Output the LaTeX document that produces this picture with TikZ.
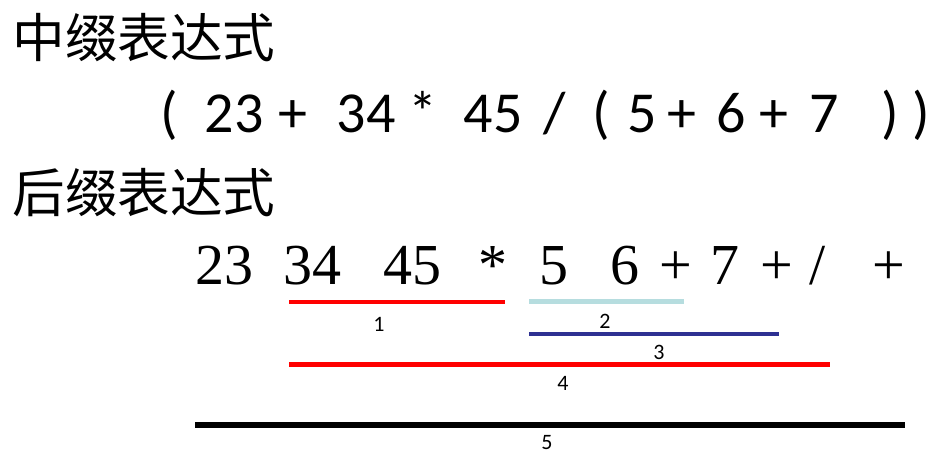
\documentclass[tikz,border=0pt]{standalone}
\usepackage{fontspec}
\setmainfont{Carlito}
\newfontfamily\cjkfont{Noto Sans CJK SC}
\newfontfamily\postfont{Liberation Serif}
\usetikzlibrary{positioning}
\definecolor{segred}{RGB}{255,0,0}
\definecolor{segcyan}{RGB}{182,221,223}
\definecolor{segnavy}{RGB}{46,49,146}

\begin{document}
\begin{tikzpicture}[x=0.5pt,y=-0.5pt,
  heading/.style={anchor=west,inner sep=0pt,font=\cjkfont\fontsize{26.3}{28}\selectfont},
  infixtok/.style={anchor=base,inner sep=0pt,font=\fontsize{29}{31}\selectfont},
  postfixtok/.style={anchor=base,inner sep=0pt,font=\postfont\fontsize{29}{31}\selectfont},
  seglabel/.style={inner sep=0pt,font=\fontsize{11}{12}\selectfont}]
     \useasboundingbox (0,0) rectangle (946,458);
     % headings
     \node[heading] (infixhead) at (12,38) {中缀表达式};
     \node[heading] (postfixhead) at (12,193) {后缀表达式};
     % infix expression
     \foreach \x/\t [count=\i] in {169/{(},234/23,293/+,366/34,423/*,493/45,555/{/},601/{(},642/5,682/+,731/6,774/+,824/7,890/{)},921/{)}}
       \node[infixtok] (in\i) at (\x,133) {\t};
     % postfix expression
     \foreach \x/\t [count=\i] in {224/23,312/34,412/45,493/*,554/5,625/6,676/+,725/7,777/+,818/{/},889/+}
       \node[postfixtok] (post\i) at (\x,285) {\t};
     % sub-expressions
     \draw[segred,line width=2pt] (289,302) -- (505,302);
     \node[seglabel] (lab1) at (379,324) {1};
     \draw[segcyan,line width=2.5pt] (529,302) -- (684,302);
     \node[seglabel] (lab2) at (605,321) {2};
     \draw[segnavy,line width=2pt] (529,334) -- (779,334);
     \node[seglabel] (lab3) at (659,352) {3};
     \draw[segred,line width=2.5pt] (289,365) -- (830,365);
     \node[seglabel] (lab4) at (563,383) {4};
     \draw[black,line width=3pt] (195,425) -- (905,425);
     \node[seglabel] (lab5) at (547,443) {5};
\end{tikzpicture}
\end{document}
